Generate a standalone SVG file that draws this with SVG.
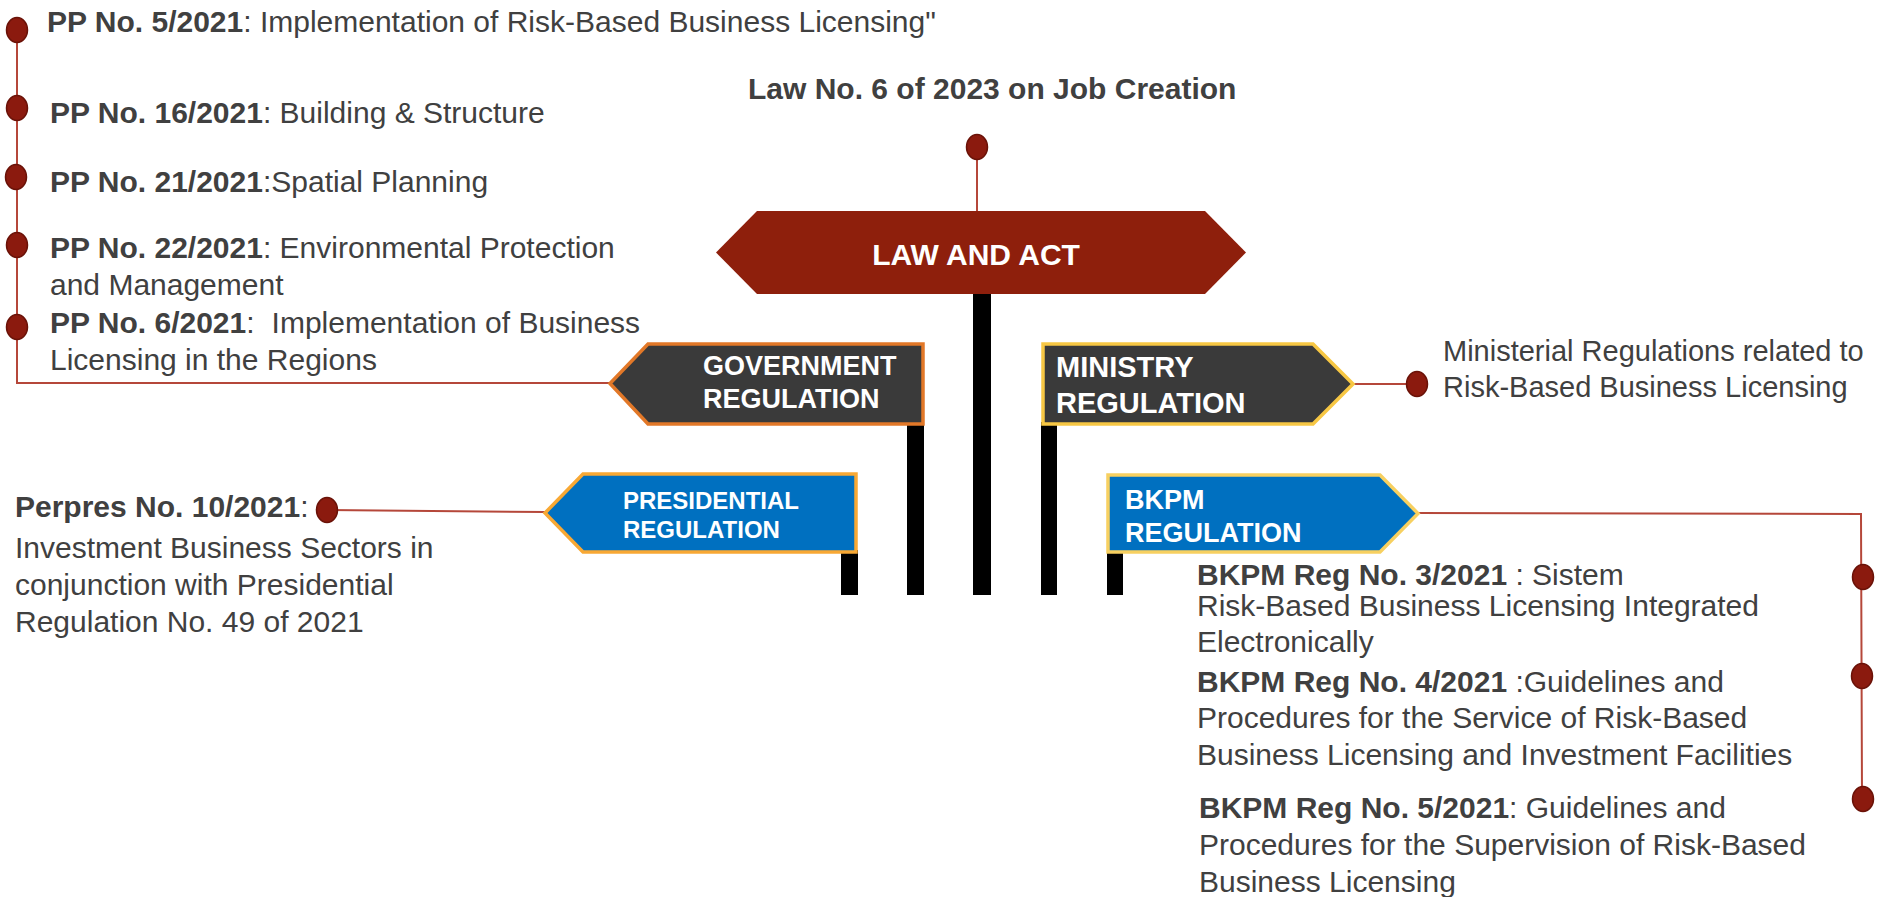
<svg xmlns="http://www.w3.org/2000/svg" width="1902" height="897" viewBox="0 0 1902 897">
<style>
.t{font-family:"Liberation Sans",Arial,sans-serif;font-size:30px;fill:#404040}
.s{font-size:29px}
.b{font-weight:bold}
.w{font-family:"Liberation Sans",Arial,sans-serif;font-weight:bold;fill:#ffffff}
.dot{fill:#8B1A0E;stroke:#6A1208;stroke-width:1.5}
.ln{fill:none;stroke:#B5473A;stroke-width:2}
.post{fill:#000000}
</style>
<rect width="1902" height="897" fill="#ffffff"/>
<g id="connectors">
<polyline class="ln" points="17,30 17,383 610,383"/>
<line class="ln" x1="977" y1="147" x2="977" y2="211"/>
<line class="ln" x1="1353" y1="384" x2="1417" y2="384"/>
<line class="ln" x1="545" y1="512" x2="327" y2="510"/>
<polyline class="ln" points="1418,513 1861,514 1862,799"/>
</g>
<g id="posts">
<rect class="post" x="841" y="550" width="17" height="45"/>
<rect class="post" x="907" y="422" width="17" height="173"/>
<rect class="post" x="973" y="290" width="18" height="305"/>
<rect class="post" x="1041" y="422" width="16" height="173"/>
<rect class="post" x="1107" y="550" width="16" height="45"/>
</g>
<g id="law-title">
<text class="t b" x="748" y="99">Law No. 6 of 2023 on Job Creation</text>
<ellipse class="dot" cx="977" cy="147" rx="10.5" ry="12.5"/>
</g>
<g id="law-and-act">
<polygon points="716,252.5 757,211 1205,211 1246,252.5 1205,294 757,294" fill="#8E1F0C"/>
<text class="w" x="976" y="265" font-size="30" text-anchor="middle">LAW AND ACT</text>
</g>
<g id="government-regulation">
<polygon points="610,383.5 648,344 923,344 923,424 648,424" fill="#3A3A3A" stroke="#E27828" stroke-width="3.5"/>
<text class="w" x="703" y="375" font-size="27">GOVERNMENT</text>
<text class="w" x="703" y="408" font-size="27">REGULATION</text>
</g>
<g id="ministry-regulation">
<polygon points="1043,344 1313,344 1353,384 1313,424 1043,424" fill="#3A3A3A" stroke="#F7C744" stroke-width="3.5"/>
<text class="w" x="1056" y="377" font-size="29">MINISTRY</text>
<text class="w" x="1056" y="413" font-size="29">REGULATION</text>
</g>
<g id="presidential-regulation">
<polygon points="545,513 583,474 856,474 856,552 583,552" fill="#0070C0" stroke="#F8A834" stroke-width="3.5"/>
<text class="w" x="623" y="509" font-size="24">PRESIDENTIAL</text>
<text class="w" x="623" y="538" font-size="24">REGULATION</text>
</g>
<g id="bkpm-regulation">
<polygon points="1108,475 1380,475 1418,513.5 1380,552 1108,552" fill="#0070C0" stroke="#F7D060" stroke-width="3.5"/>
<text class="w" x="1125" y="509" font-size="27">BKPM</text>
<text class="w" x="1125" y="542" font-size="27">REGULATION</text>
</g>
<g id="pp-5-2021">
<ellipse class="dot" cx="17" cy="30" rx="10.5" ry="12.5"/>
<text class="t" x="47" y="32"><tspan class="b">PP No. 5/2021</tspan>: Implementation of Risk-Based Business Licensing"</text>
</g>
<g id="pp-16-2021">
<ellipse class="dot" cx="17" cy="108" rx="10.5" ry="12.5"/>
<text class="t" x="50" y="123"><tspan class="b">PP No. 16/2021</tspan>: Building &amp; Structure</text>
</g>
<g id="pp-21-2021">
<ellipse class="dot" cx="16" cy="177" rx="10.5" ry="12.5"/>
<text class="t" x="50" y="192"><tspan class="b">PP No. 21/2021</tspan>:Spatial Planning</text>
</g>
<g id="pp-22-2021">
<ellipse class="dot" cx="17" cy="245" rx="10.5" ry="12.5"/>
<text class="t" x="50" y="258"><tspan class="b">PP No. 22/2021</tspan>: Environmental Protection</text>
<text class="t" x="50" y="295">and Management</text>
</g>
<g id="pp-6-2021">
<ellipse class="dot" cx="17" cy="327" rx="10.5" ry="12.5"/>
<text class="t" x="50" y="333"><tspan class="b">PP No. 6/2021</tspan>:<tspan dx="17">Implementation of Business</tspan></text>
<text class="t" x="50" y="370">Licensing in the Regions</text>
</g>
<g id="ministerial-regulations">
<ellipse class="dot" cx="1417" cy="384" rx="10.5" ry="12.5"/>
<text class="t s" x="1443" y="361">Ministerial Regulations related to</text>
<text class="t s" x="1443" y="397">Risk-Based Business Licensing</text>
</g>
<g id="perpres-10-2021">
<ellipse class="dot" cx="327" cy="510" rx="10.5" ry="12.5"/>
<text class="t" x="15" y="517"><tspan class="b">Perpres No. 10/2021</tspan>:</text>
<text class="t" x="15" y="558">Investment Business Sectors in</text>
<text class="t" x="15" y="595">conjunction with Presidential</text>
<text class="t" x="15" y="632">Regulation No. 49 of 2021</text>
</g>
<g id="bkpm-3-2021">
<ellipse class="dot" cx="1863" cy="577" rx="10.5" ry="12.5"/>
<text class="t" x="1197" y="585"><tspan class="b">BKPM Reg No. 3/2021</tspan> : Sistem</text>
<text class="t" x="1197" y="616">Risk-Based Business Licensing Integrated</text>
<text class="t" x="1197" y="652">Electronically</text>
</g>
<g id="bkpm-4-2021">
<ellipse class="dot" cx="1862" cy="676" rx="10.5" ry="12.5"/>
<text class="t" x="1197" y="692"><tspan class="b">BKPM Reg No. 4/2021</tspan> :Guidelines and</text>
<text class="t" x="1197" y="728">Procedures for the Service of Risk-Based</text>
<text class="t" x="1197" y="765">Business Licensing and Investment Facilities</text>
</g>
<g id="bkpm-5-2021">
<ellipse class="dot" cx="1863" cy="799" rx="10.5" ry="12.5"/>
<text class="t" x="1199" y="818"><tspan class="b">BKPM Reg No. 5/2021</tspan>: Guidelines and</text>
<text class="t" x="1199" y="855">Procedures for the Supervision of Risk-Based</text>
<text class="t" x="1199" y="892">Business Licensing</text>
</g>
</svg>
